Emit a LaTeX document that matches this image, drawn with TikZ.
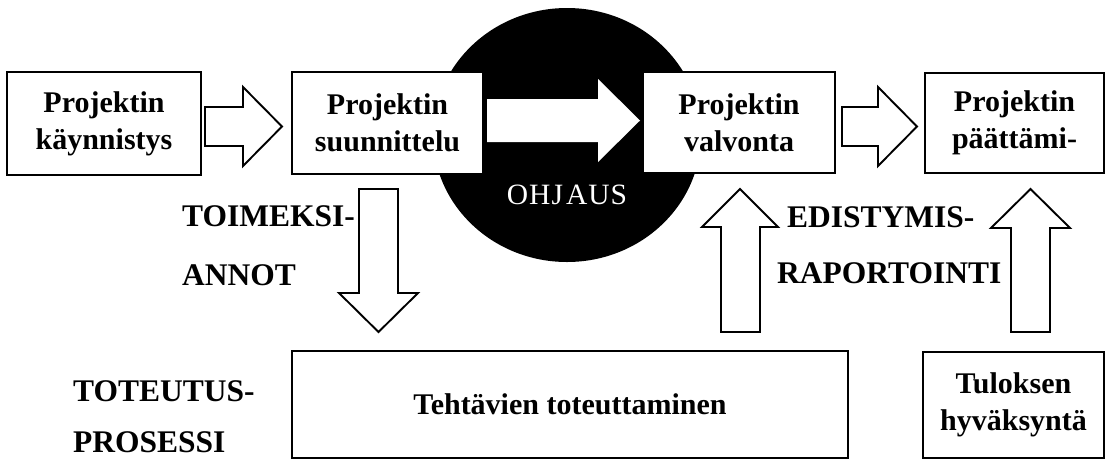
\documentclass[tikz,border=0pt]{standalone}
\usepackage{fontspec}
\setmainfont{Liberation Serif}
\begin{document}
\begin{tikzpicture}[x=1pt,y=-1pt,
  phase/.style={draw=black, fill=white, line width=2.2pt, inner sep=0pt,
    align=center, font=\fontsize{30}{37}\selectfont\bfseries},
  flowlabel/.style={anchor=base west, inner sep=0pt,
    font=\fontsize{31.5}{38}\selectfont\bfseries},
  hollow/.style={draw=black, fill=white, line width=1.9pt, line join=miter}]

\useasboundingbox (0,0) rectangle (1109,459);

% steering disc behind the planning and monitoring phases
\fill[black] (567,135) ellipse [x radius=134pt, y radius=127pt];
\node[anchor=base, inner sep=0pt, text=white,
  font=\fontsize{29.5}{34}\selectfont] (ohjaus) at (567,204) {O\kern1pt H\kern1pt J\kern3pt A\kern1pt U\kern1pt S};

% project phases
\node[phase, minimum width=194pt, minimum height=103pt] (start) at (104,123.5)
  {Projektin\\käynnistys};
\node[phase, minimum width=191pt, minimum height=102pt] (plan) at (387.5,123)
  {Projektin\\suunnittelu};
\node[phase, minimum width=192pt, minimum height=101pt] (monitor) at (739,122.5)
  {Projektin\\valvonta};
\node[phase, minimum width=179pt, minimum height=100pt] (close) at (1014.5,123)
  {Projektin\\päättämi-};
\node[phase, minimum width=556pt, minimum height=107pt] (tasks) at (570,404.5)
  {Tehtävien toteuttaminen};
\node[phase, minimum width=181pt, minimum height=106pt] (accept) at (1013.5,405)
  {Tuloksen\\hyväksyntä};

% block arrows between the phases
\draw[hollow] (205,107) -- (243,107) -- (243,87) -- (282,126.5) -- (243,166)
  -- (243,146) -- (205,146) -- cycle;
\fill[white] (487,99) -- (598,99) -- (598,79) -- (640,120.5) -- (598,162)
  -- (598,142) -- (487,142) -- cycle;
\draw[hollow] (842,107) -- (878,107) -- (878,87) -- (917,126.5) -- (878,166)
  -- (878,146) -- (842,146) -- cycle;

% assignments down, reporting up
\draw[hollow] (359,189) -- (398,189) -- (398,293) -- (418,293) -- (378.5,332)
  -- (339,293) -- (359,293) -- cycle;
\draw[hollow] (721,332) -- (721,227) -- (702,227) -- (740,189) -- (778,227)
  -- (760,227) -- (760,332) -- cycle;
\draw[hollow] (1011,332) -- (1011,228) -- (991,228) -- (1030.5,189) -- (1070,228)
  -- (1050,228) -- (1050,332) -- cycle;

% side labels
\node[flowlabel] (toim1) at (182,226) {TOIMEKSI-};
\node[flowlabel] (toim2) at (182,285) {ANNOT};
\node[flowlabel] (tot1) at (73,401) {TOTEUTUS-};
\node[flowlabel] (tot2) at (73,452) {PROSESSI};
\node[flowlabel] (edi1) at (787,227) {EDISTYMIS-};
\node[flowlabel] (edi2) at (777,283) {RAPORTOINTI};

\end{tikzpicture}
\end{document}
